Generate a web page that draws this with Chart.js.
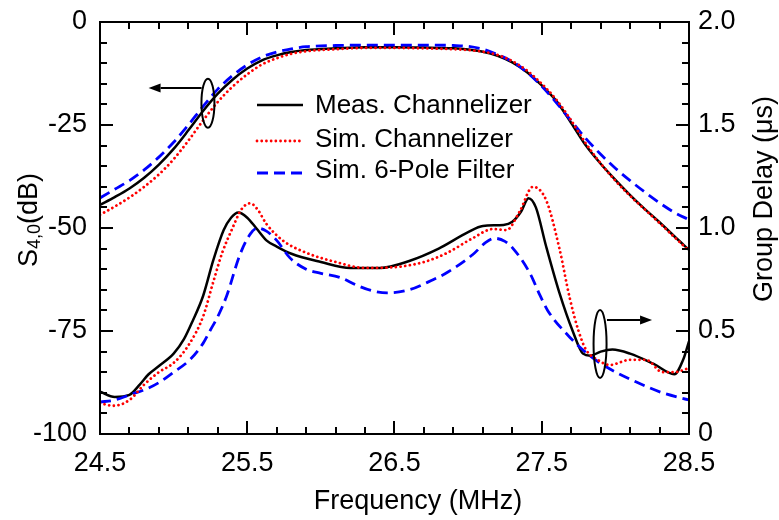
<!DOCTYPE html>
<html><head><meta charset="utf-8">
<script src="https://cdn.jsdelivr.net/npm/chart.js@4.4.0/dist/chart.umd.min.js"></script>
<style>html,body{margin:0;padding:0;background:#fff;}#wrap{width:779px;height:520px;position:relative;}</style>
</head><body><div id="wrap"><canvas id="c" width="779" height="520"></canvas></div>
<script>
// ---------- data ----------
const seriesNames = ["Meas. Channelizer", "Sim. Channelizer", "Sim. 6-Pole Filter"];

// S4,0 (dB), left axis
const freqS = [24.5,24.6,24.7,24.8,24.9,25.0,25.1,25.2,25.3,25.4,25.5,25.6,25.7,25.8,25.9,26.1,26.3,26.5,26.7,26.9,27.0,27.1,27.2,27.3,27.4,27.5,27.6,27.7,27.8,27.9,28.0,28.1,28.2,28.3,28.4,28.5];
const sMeas  = [-44.4,-42.5,-40.4,-37.8,-34.6,-30.8,-26.3,-21.6,-17.4,-14.0,-11.3,-9.3,-8.1,-7.3,-6.8,-6.4,-6.1,-6.1,-6.2,-6.4,-6.7,-7.2,-8.2,-9.8,-12.2,-15.4,-19.2,-24.5,-30.0,-34.4,-38.3,-42.0,-45.4,-48.6,-52.0,-55.3];
const sSimCh = [-46.8,-44.8,-42.6,-40.0,-37.0,-33.3,-28.8,-23.9,-19.4,-15.7,-12.7,-10.3,-8.8,-7.7,-7.1,-6.6,-6.3,-6.3,-6.4,-6.6,-6.8,-7.2,-8.0,-9.5,-11.8,-15.0,-18.9,-23.9,-29.5,-34.3,-38.5,-42.2,-45.5,-48.8,-52.2,-55.5];
const sSim6  = [-42.7,-40.6,-38.5,-35.9,-32.8,-29.2,-25.0,-20.5,-16.3,-13.0,-10.4,-8.5,-7.3,-6.5,-6.0,-5.7,-5.6,-5.6,-5.6,-5.7,-5.9,-6.6,-7.9,-9.6,-12.2,-15.6,-19.6,-24.0,-28.3,-32.1,-35.5,-38.5,-41.3,-43.9,-46.2,-48.0];

// Group delay (us), right axis
const gdMeasFreq = [24.5,24.6,24.7,24.77,24.83,24.9,25.0,25.07,25.13,25.2,25.27,25.34,25.39,25.44,25.5,25.56,25.63,25.7,25.8,26.0,26.2,26.4,26.6,26.8,27.0,27.1,27.24,27.3,27.36,27.41,27.46,27.53,27.62,27.71,27.78,27.83,27.9,27.98,28.1,28.26,28.4,28.46,28.5];
const gdMeas     = [0.205,0.18,0.19,0.24,0.29,0.33,0.39,0.46,0.55,0.67,0.845,0.99,1.05,1.075,1.05,1.0,0.94,0.91,0.875,0.835,0.806,0.806,0.84,0.9,0.98,1.01,1.015,1.03,1.08,1.145,1.1,0.91,0.685,0.5,0.39,0.38,0.4,0.41,0.39,0.34,0.29,0.36,0.45];
const gdSimChFreq = [24.5,24.59,24.7,24.8,24.9,25.0,25.1,25.2,25.27,25.33,25.4,25.46,25.52,25.57,25.63,25.74,25.9,26.1,26.3,26.5,26.7,26.86,27.03,27.17,27.26,27.35,27.44,27.53,27.62,27.69,27.75,27.8,27.88,27.96,28.1,28.21,28.32,28.4,28.5];
const gdSimCh     = [0.15,0.137,0.165,0.24,0.3,0.345,0.43,0.57,0.74,0.88,1.0,1.09,1.12,1.09,1.02,0.94,0.88,0.835,0.806,0.81,0.835,0.88,0.95,0.995,0.99,1.08,1.2,1.135,0.9,0.66,0.5,0.41,0.36,0.335,0.36,0.36,0.30,0.30,0.32];
const gdSim6Freq = [24.5,24.6,24.7,24.82,24.91,25.0,25.11,25.2,25.25,25.3,25.36,25.45,25.52,25.57,25.63,25.7,25.79,25.9,26.0,26.13,26.25,26.35,26.45,26.6,26.75,26.86,27.03,27.12,27.18,27.25,27.3,27.42,27.49,27.54,27.69,27.81,27.94,28.15,28.32,28.5];
const gdSim6     = [0.155,0.165,0.19,0.22,0.254,0.3,0.36,0.44,0.505,0.57,0.67,0.87,0.97,1.0,0.985,0.94,0.855,0.8,0.78,0.76,0.72,0.695,0.685,0.70,0.745,0.785,0.87,0.93,0.95,0.935,0.905,0.78,0.67,0.6,0.47,0.39,0.325,0.25,0.2,0.165];

// ticks
const xTickValues = [24.5,25.5,26.5,27.5,28.5];
const xTickLabels = ["24.5","25.5","26.5","27.5","28.5"];
const yTickValues = [-100,-75,-50,-25,0];
const yTickLabels = ["-100","-75","-50","-25","0"];
const y2TickValues = [0,0.5,1.0,1.5,2.0];
const y2TickLabels = ["0","0.5","1.0","1.5","2.0"];

// annotation markers (data units)
const leftMarker  = {x:25.233, y:-19.7, arrowFrom:25.19, arrowTo:24.83, arrowY:-16};
const rightMarker = {x:27.896, y:0.437, arrowFrom:27.943, arrowTo:28.249, arrowY:0.553};

// ---------- styles ----------
const FONT = "'Liberation Sans', Arial, Helvetica, sans-serif";
const styles = [
  {color:'#000000', dash:[], width:2.5, cap:'butt'},
  {color:'#ff0000', dash:[0.01,4.7], width:2.8, cap:'round'},
  {color:'#0000ff', dash:[11,6], width:2.8, cap:'butt'}
];
const pts = (xs, ys) => xs.map((x,i)=>({x:x, y:ys[i]}));

function mkDs(label, data, axis, st, order){
  return {label, data, yAxisID: axis, borderColor: st.color, backgroundColor: st.color,
    borderDash: st.dash, borderWidth: st.width, borderCapStyle: st.cap,
    pointRadius: 0, fill:false, cubicInterpolationMode:'monotone', order};
}

const datasets = [
  mkDs(seriesNames[0], pts(freqS, sMeas), 'y', styles[0], 2),
  mkDs(seriesNames[1], pts(freqS, sSimCh), 'y', styles[1], 0),
  mkDs(seriesNames[2], pts(freqS, sSim6), 'y', styles[2], 1),
  mkDs(seriesNames[0], pts(gdMeasFreq, gdMeas), 'y2', styles[0], 2),
  mkDs(seriesNames[1], pts(gdSimChFreq, gdSimCh), 'y2', styles[1], 0),
  mkDs(seriesNames[2], pts(gdSim6Freq, gdSim6), 'y2', styles[2], 1)
];

const decor = {
  id:'decor',
  afterDraw(chart){
    const ctx = chart.ctx, ca = chart.chartArea;
    const sx = chart.scales.x, sy = chart.scales.y, sy2 = chart.scales.y2;
    ctx.save();
    ctx.strokeStyle = '#000'; ctx.fillStyle = '#000';
    // frame
    ctx.lineWidth = 2;
    ctx.strokeRect(ca.left, ca.top, ca.right-ca.left, ca.bottom-ca.top);
    // ticks
    const MAJ = 13, MIN = 7;
    ctx.beginPath();
    for (let v = sx.min; v <= sx.max + 1e-9; v += 0.2) {
      const px = Math.round(sx.getPixelForValue(v));
      const isMaj = xTickValues.some(t => Math.abs(t - v) < 1e-6);
      const L = isMaj ? MAJ : MIN;
      ctx.moveTo(px, ca.bottom); ctx.lineTo(px, ca.bottom - L);
      ctx.moveTo(px, ca.top); ctx.lineTo(px, ca.top + L);
    }
    for (let v = sy.min; v <= sy.max + 1e-9; v += 5) {
      const py = Math.round(sy.getPixelForValue(v));
      const isMaj = yTickValues.some(t => Math.abs(t - v) < 1e-6);
      ctx.moveTo(ca.left, py); ctx.lineTo(ca.left + (isMaj ? MAJ : MIN), py);
    }
    for (let v = sy2.min; v <= sy2.max + 1e-9; v += 0.1) {
      const py = Math.round(sy2.getPixelForValue(v));
      const isMaj = y2TickValues.some(t => Math.abs(t - v) < 1e-6);
      ctx.moveTo(ca.right, py); ctx.lineTo(ca.right - (isMaj ? MAJ : MIN), py);
    }
    ctx.stroke();

    // x title
    ctx.font = '27px ' + FONT;
    ctx.textAlign = 'center'; ctx.textBaseline = 'alphabetic';
    ctx.fillText('Frequency (MHz)', 418, 509);

    // left title: S4,0(dB) rotated
    ctx.save();
    ctx.translate(37, 267); ctx.rotate(-Math.PI/2);
    ctx.textAlign = 'left';
    ctx.font = '27px ' + FONT;
    let xx = 0;
    ctx.fillText('S', xx, 0); xx += ctx.measureText('S').width;
    ctx.font = '18px ' + FONT;
    ctx.fillText('4,0', xx, 3); xx += ctx.measureText('4,0').width;
    ctx.font = '27px ' + FONT;
    ctx.fillText('(dB)', xx, 0);
    ctx.restore();

    // right title
    ctx.save();
    ctx.translate(772, 302); ctx.rotate(-Math.PI/2);
    ctx.textAlign = 'left';
    ctx.font = '27px ' + FONT;
    ctx.fillText('Group Delay (\u03bcs)', 0, 0);
    ctx.restore();

    // legend
    const rowsY = [105, 141, 173];
    const textY = [113, 146.5, 178];
    for (let i = 0; i < 3; i++) {
      const st = styles[i];
      ctx.save();
      ctx.strokeStyle = st.color; ctx.lineWidth = st.width; ctx.lineCap = st.cap;
      ctx.setLineDash(st.dash);
      ctx.beginPath(); ctx.moveTo(257, rowsY[i]); ctx.lineTo(303, rowsY[i]); ctx.stroke();
      ctx.restore();
      ctx.font = '26px ' + FONT; ctx.textAlign = 'left'; ctx.textBaseline = 'alphabetic';
      ctx.fillStyle = '#000';
      ctx.fillText(seriesNames[i], 315, textY[i]);
    }

    // annotation markers
    function marker(m, ys, ry, dir){
      const cx = sx.getPixelForValue(m.x), cy = ys.getPixelForValue(m.y);
      ctx.lineWidth = 2; ctx.strokeStyle = '#000'; ctx.setLineDash([]);
      ctx.beginPath(); ctx.ellipse(cx, cy, 6.5, ry, 0, 0, Math.PI*2); ctx.stroke();
      const ax0 = sx.getPixelForValue(m.arrowFrom), ax1 = sx.getPixelForValue(m.arrowTo);
      const ay = ys.getPixelForValue(m.arrowY);
      const head = 12 * dir;
      ctx.beginPath(); ctx.moveTo(ax0, ay); ctx.lineTo(ax1 - head, ay); ctx.stroke();
      ctx.beginPath(); ctx.moveTo(ax1, ay); ctx.lineTo(ax1 - head, ay - 4.5); ctx.lineTo(ax1 - head, ay + 4.5); ctx.closePath(); ctx.fill();
    }
    marker(leftMarker, sy, 24.5, -1);
    marker(rightMarker, sy2, 34, 1);
    ctx.restore();
  }
};

const zeroPad = s => { s.paddingTop = 0; s.paddingBottom = 0; s.paddingLeft = 0; s.paddingRight = 0; };
const tickFont = {family: FONT, size: 27};
new Chart(document.getElementById('c'), {
  type: 'line',
  data: {datasets},
  options: {
    responsive: false, animation: false, devicePixelRatio: 1,
    layout: {padding: 0, autoPadding: false},
    plugins: {legend: {display: false}, tooltip: {enabled: false}},
    scales: {
      x: {type:'linear', position:'bottom', min:24.5, max:28.5,
        grid:{display:false, drawTicks:false}, border:{display:false},
        afterBuildTicks: s => { s.ticks = xTickValues.map(v => ({value:v})); },
        afterFit: s => { s.height = 86; zeroPad(s); },
        ticks:{font:tickFont, color:'#000', padding:13, maxRotation:0, autoSkip:false,
          callback:(v,i) => xTickLabels[i]}},
      x2: {type:'linear', axis:'x', position:'top', min:24.5, max:28.5,
        grid:{display:false, drawTicks:false}, border:{display:false},
        ticks:{display:false}, afterFit: s => { s.height = 22; zeroPad(s); }},
      y: {type:'linear', position:'left', min:-100, max:0,
        grid:{display:false, drawTicks:false}, border:{display:false},
        afterBuildTicks: s => { s.ticks = yTickValues.map(v => ({value:v})); },
        afterFit: s => { s.width = 100; zeroPad(s); },
        ticks:{font:tickFont, color:'#000', padding:13, autoSkip:false,
          callback:(v,i) => yTickLabels[i]}},
      y2: {type:'linear', position:'right', min:0, max:2,
        grid:{display:false, drawTicks:false}, border:{display:false},
        afterBuildTicks: s => { s.ticks = y2TickValues.map(v => ({value:v})); },
        afterFit: s => { s.width = 90; zeroPad(s); },
        ticks:{font:tickFont, color:'#000', padding:9, autoSkip:false,
          callback:(v,i) => y2TickLabels[i]}}
    }
  },
  plugins: [decor]
});
</script></body></html>
